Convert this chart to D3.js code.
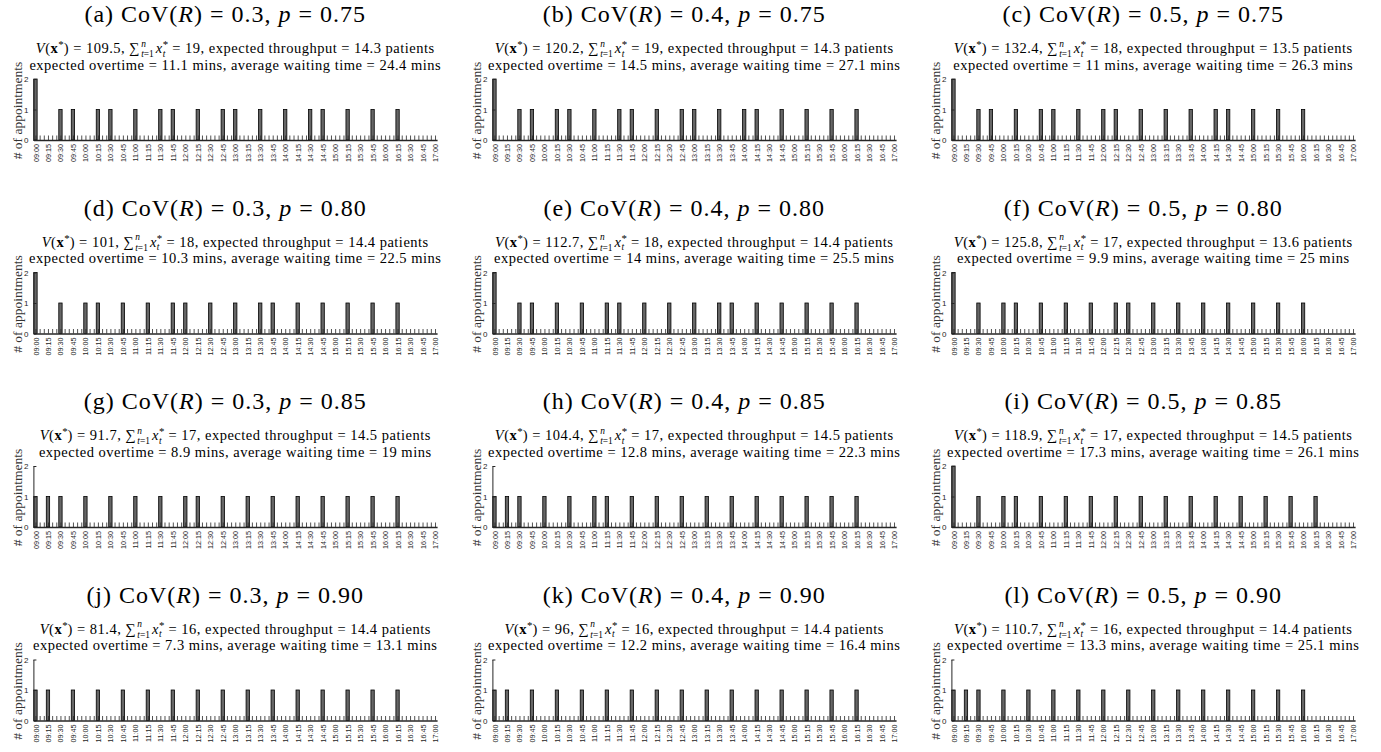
<!DOCTYPE html>
<html><head><meta charset="utf-8">
<script src="https://cdn.jsdelivr.net/npm/d3@7"></script>
<style>
body{margin:0;background:#fff}
text{white-space:pre}
</style>
</head><body><svg id="chart" width="1381" height="752"></svg>
<script>
// ---------------- data ----------------
const panelLetters = ["a","b","c","d","e","f","g","h","i","j","k","l"];
const covValues = ["0.3","0.4","0.5"];
const pValues = ["0.75","0.80","0.85","0.90"];
const objValues  = [109.5,120.2,132.4,101,112.7,125.8,91.7,104.4,118.9,81.4,96,110.7];
const totalAppts = [19,19,18,18,18,17,17,17,17,16,16,16];
const throughput = [14.3,14.3,13.5,14.4,14.4,13.6,14.5,14.5,14.5,14.4,14.4,14.4];
const overtime   = [11.1,14.5,11,10.3,14,9.9,8.9,12.8,17.3,7.3,12.2,13.3];
const waiting    = [24.4,27.1,26.3,22.5,25.5,25,19,22.3,26.1,13.1,16.4,25.1];
const tickLabels = ["09:00","09:15","09:30","09:45","10:00","10:15","10:30","10:45","11:00","11:15","11:30","11:45",
  "12:00","12:15","12:30","12:45","13:00","13:15","13:30","13:45","14:00","14:15","14:30","14:45",
  "15:00","15:15","15:30","15:45","16:00","16:15","16:30","16:45","17:00"];
const yTicks = [0,1,2];
const yLabel = "# of appointments";

const schedA = [["09:00",2],["09:30",1],["09:45",1],["10:15",1],["10:30",1],["11:00",1],["11:30",1],["11:45",1],["12:15",1],["12:45",1],["13:00",1],["13:30",1],["14:00",1],["14:30",1],["14:45",1],["15:15",1],["15:45",1],["16:15",1]];
const schedB = [["09:00",2],["09:30",1],["09:45",1],["10:15",1],["10:30",1],["11:00",1],["11:30",1],["11:45",1],["12:15",1],["12:45",1],["13:00",1],["13:30",1],["14:00",1],["14:15",1],["14:45",1],["15:15",1],["15:45",1],["16:15",1]];
const schedC = [["09:00",2],["09:30",1],["09:45",1],["10:15",1],["10:45",1],["11:00",1],["11:30",1],["12:00",1],["12:15",1],["12:45",1],["13:15",1],["13:45",1],["14:15",1],["14:30",1],["15:00",1],["15:30",1],["16:00",1]];
const schedD = [["09:00",2],["09:30",1],["10:00",1],["10:15",1],["10:45",1],["11:15",1],["11:45",1],["12:00",1],["12:30",1],["13:00",1],["13:30",1],["13:45",1],["14:15",1],["14:45",1],["15:15",1],["15:45",1],["16:15",1]];
const schedE = [["09:00",2],["09:30",1],["09:45",1],["10:15",1],["10:45",1],["11:15",1],["11:30",1],["12:00",1],["12:30",1],["13:00",1],["13:30",1],["13:45",1],["14:15",1],["14:45",1],["15:15",1],["15:45",1],["16:15",1]];
const schedF = [["09:00",2],["09:30",1],["10:00",1],["10:15",1],["10:45",1],["11:15",1],["11:45",1],["12:15",1],["12:30",1],["13:00",1],["13:30",1],["14:00",1],["14:30",1],["15:00",1],["15:30",1],["16:00",1]];
const schedG = [["09:00",1],["09:15",1],["09:30",1],["10:00",1],["10:30",1],["11:00",1],["11:30",1],["12:00",1],["12:15",1],["12:45",1],["13:15",1],["13:45",1],["14:15",1],["14:45",1],["15:15",1],["15:45",1],["16:15",1]];
const schedH = [["09:00",1],["09:15",1],["09:30",1],["10:00",1],["10:30",1],["11:00",1],["11:15",1],["11:45",1],["12:15",1],["12:45",1],["13:15",1],["13:45",1],["14:15",1],["14:45",1],["15:15",1],["15:45",1],["16:15",1]];
const schedI = [["09:00",2],["09:30",1],["10:00",1],["10:15",1],["10:45",1],["11:15",1],["11:45",1],["12:15",1],["12:45",1],["13:15",1],["13:45",1],["14:15",1],["14:45",1],["15:15",1],["15:45",1],["16:15",1]];
const schedJ = [["09:00",1],["09:15",1],["09:45",1],["10:15",1],["10:45",1],["11:15",1],["11:45",1],["12:15",1],["12:45",1],["13:15",1],["13:45",1],["14:15",1],["14:45",1],["15:15",1],["15:45",1],["16:15",1]];
const schedK = [["09:00",1],["09:15",1],["09:45",1],["10:15",1],["10:45",1],["11:15",1],["11:45",1],["12:15",1],["12:45",1],["13:15",1],["13:45",1],["14:15",1],["14:45",1],["15:15",1],["15:45",1],["16:15",1]];
const schedL = [["09:00",1],["09:15",1],["09:30",1],["10:00",1],["10:30",1],["11:00",1],["11:30",1],["12:00",1],["12:30",1],["13:00",1],["13:30",1],["14:00",1],["14:30",1],["15:00",1],["15:30",1],["16:00",1]];
const schedules = [schedA,schedB,schedC,schedD,schedE,schedF,schedG,schedH,schedI,schedJ,schedK,schedL];

// ---------------- layout ----------------
const SERIF = "'Liberation Serif','Times New Roman',serif";
const SANS = "'Liberation Sans',Arial,Helvetica,sans-serif";
const AX = "#262626";
const EQ = " = ";
const nSlots = 97;
const colX0 = [33.4, 492.4, 951.4];
const plotW = 403.7;
const rowStep = 193.5;
const svg = d3.select("#chart");
svg.append("rect").attr("width",1381).attr("height",752).attr("fill","#fff");

function slotIndex(t){ const [h,m] = t.split(":").map(Number); return (h-9)*12 + m/5; }

function richLine(g, segs, cx, y, size, ls){
  const grp = g.append("g");
  let x = 0;
  function mk(p, x0){
    const t = grp.append("text").attr("x", x0).attr("y", p.dy||0)
      .attr("font-family", SERIF).attr("font-size", size*(p.scale||1)).attr("fill","#000")
      .attr("letter-spacing", p.scale ? 0 : ls);
    (p.parts || [[p.t, p.st]]).forEach(([s, st]) => {
      const ts = t.append("tspan").text(s);
      if (st === "i") ts.attr("font-style","italic");
      if (st === "b") ts.attr("font-weight","bold");
    });
    return t.node().getComputedTextLength();
  }
  segs.forEach(s => {
    if (s.stack){ let w = 0; s.stack.forEach(p => { w = Math.max(w, mk(p, x)); }); x += w + (s.gap||0); }
    else { x += mk(s, x) + (s.gap||0); }
  });
  grp.attr("transform", `translate(${cx - x/2},${y})`);
}

schedules.forEach((sched, k) => {
  const col = k % 3, row = Math.floor(k / 3);
  const x0 = colX0[col];
  const y0 = 140 + row*rowStep, yTop = 79 + row*rowStep;
  const g = svg.append("g");
  const x = d3.scaleLinear().domain([-0.5, nSlots - 0.5]).range([x0, x0 + plotW]);
  const y = d3.scaleLinear().domain([0, 2]).range([y0, yTop]);
  const cx = x0 + plotW/2;

  // title
  const title = g.append("text").attr("x", cx - 10).attr("y", 22 + row*rowStep)
    .attr("text-anchor","middle").attr("font-family", SERIF).attr("font-size", 24)
    .attr("letter-spacing", 1).attr("fill","#000");
  title.append("tspan").text(`(${panelLetters[k]}) CoV(`);
  title.append("tspan").attr("font-style","italic").text("R");
  title.append("tspan").text(`)${EQ}${covValues[col]}, `);
  title.append("tspan").attr("font-style","italic").text("p");
  title.append("tspan").text(`${EQ}${pValues[row]}`);

  // subtitle line 1
  const fs = 14.5, ls = 0.5;
  richLine(g, [
    {t:"V", st:"i"}, {t:"("}, {t:"x", st:"b"}, {t:"*", scale:0.75, dy:-5}, {t:`)${EQ}${objValues[k]}, `},
    {t:"∑", gap:1},
    {stack:[{t:"n", st:"i", scale:0.65, dy:-6.5}, {parts:[["t","i"],["=1",""]], scale:0.65, dy:4}], gap:2},
    {t:"x", st:"i"},
    {stack:[{t:"*", scale:0.75, dy:-5}, {t:"t", st:"i", scale:0.65, dy:3.5}]},
    {t:`${EQ}${totalAppts[k]}, expected throughput${EQ}${throughput[k]} patients`}
  ], cx, 53 + row*rowStep, fs, ls);
  // subtitle line 2
  richLine(g, [{t:`expected overtime${EQ}${overtime[k]} mins, average waiting time${EQ}${waiting[k]} mins`}],
    cx, 69.5 + row*rowStep, fs, ls);

  // bars
  const bw = 0.8 * (x(1) - x(0));
  g.append("g").selectAll("rect").data(sched).join("rect")
    .attr("x", d => x(slotIndex(d[0])) - bw/2)
    .attr("y", d => y(d[1]))
    .attr("width", bw)
    .attr("height", d => y(0) - y(d[1]))
    .attr("fill", "#666").attr("stroke", "#000").attr("stroke-width", 0.8);

  // x axis
  const xAxis = d3.axisBottom(x).tickValues(d3.range(nSlots)).tickSizeInner(-4.5).tickSizeOuter(0)
    .tickPadding(0).tickFormat(i => i % 3 === 0 ? tickLabels[i/3] : "");
  const xg = g.append("g").attr("transform", `translate(0,${y0})`).call(xAxis);
  xg.select(".domain").attr("stroke", AX).attr("stroke-width", 1.5);
  xg.selectAll(".tick line").attr("stroke", AX).attr("stroke-width", 0.8);
  xg.selectAll(".tick text").attr("transform","rotate(-90)").attr("x", -4).attr("y", 0).attr("dy", "0.35em")
    .attr("text-anchor","end").attr("font-family", SANS).attr("font-size", 7.2).attr("fill", AX);

  // y axis
  const yAxis = d3.axisLeft(y).tickValues(yTicks).tickSizeInner(-3).tickSizeOuter(0).tickPadding(5)
    .tickFormat(d3.format("d"));
  const yg = g.append("g").attr("transform", `translate(${x0},0)`).call(yAxis);
  yg.select(".domain").attr("stroke", AX).attr("stroke-width", 1);
  yg.selectAll(".tick line").attr("stroke", AX).attr("stroke-width", 1);
  yg.selectAll(".tick text").attr("font-family", SANS).attr("font-size", 8).attr("fill", AX);

  // y label
  g.append("text").attr("transform", `translate(${x0 - 16.5},${(y0 + yTop)/2 + 1}) rotate(-90)`)
    .attr("text-anchor","middle").attr("dy","0.35em").attr("font-family", SERIF).attr("font-size", 13.5)
    .attr("fill","#333").text(yLabel);
});
</script>
</body></html>
